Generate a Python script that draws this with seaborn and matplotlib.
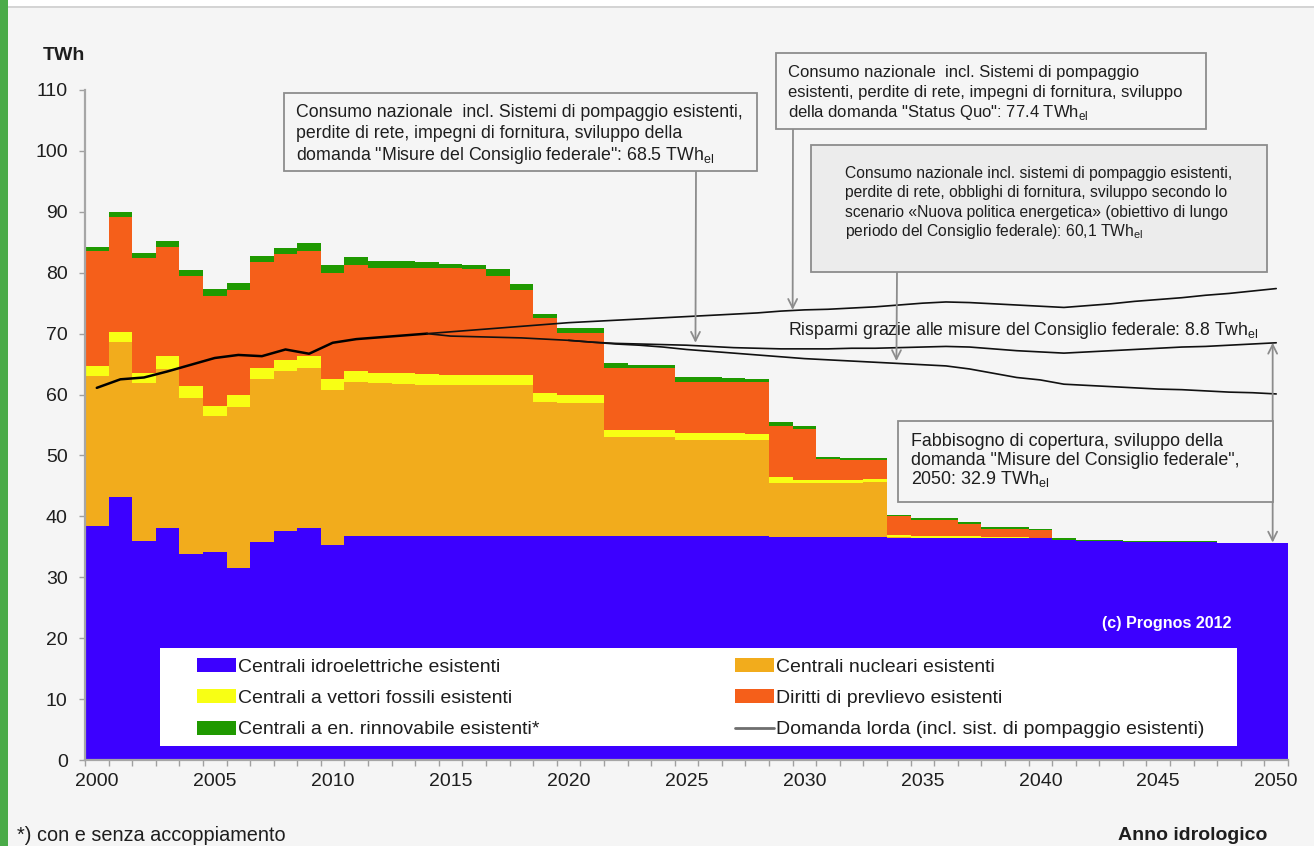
import pandas as pd
import matplotlib
matplotlib.use("Agg")
import matplotlib.pyplot as plt
from matplotlib.patches import Rectangle, Patch
from matplotlib.lines import Line2D
import seaborn as sns

# --- data (TWh) ---
anni = list(range(2000, 2051))
idro = [38.4, 43.1, 36.0, 38.1, 33.9, 34.2, 31.5, 35.8, 37.6, 38.1,
        35.3, 36.8, 36.8, 36.8, 36.8, 36.8, 36.8, 36.8, 36.8, 36.8,
        36.8, 36.8, 36.8, 36.7, 36.7, 36.7, 36.7, 36.7, 36.7, 36.6,
        36.6, 36.6, 36.6, 36.6, 36.4, 36.4, 36.4, 36.4, 36.4, 36.4,
        36.4, 36.1, 36.0, 36.0, 35.8, 35.8, 35.8, 35.8, 35.6, 35.6, 35.6]
nucleari = [24.7, 25.5, 25.9, 26.1, 25.6, 22.2, 26.4, 26.7, 26.2, 26.3,
            25.5, 25.3, 25.1, 25.0, 24.8, 24.7, 24.7, 24.7, 24.7, 22.0,
            21.8, 21.8, 16.3, 16.3, 16.3, 15.9, 15.9, 15.9, 15.8, 8.8,
            8.8, 8.8, 8.8, 9.1, 0.2, 0.1, 0.1, 0.1, 0.1, 0.1,
            0.0, 0.0, 0.0, 0.0, 0.0, 0.0, 0.0, 0.0, 0.0, 0.0, 0.0]
fossili = [1.6, 1.7, 1.6, 2.1, 1.9, 1.7, 2.0, 1.8, 1.9, 1.9,
           1.8, 1.8, 1.7, 1.7, 1.8, 1.7, 1.7, 1.7, 1.7, 1.5,
           1.3, 1.3, 1.1, 1.1, 1.1, 1.1, 1.1, 1.1, 1.1, 1.0,
           0.6, 0.6, 0.6, 0.4, 0.3, 0.3, 0.3, 0.2, 0.1, 0.1,
           0.1, 0.1, 0.0, 0.0, 0.0, 0.0, 0.0, 0.0, 0.0, 0.0, 0.0]
diritti = [18.9, 18.8, 18.9, 17.9, 18.1, 18.1, 17.3, 17.4, 17.3, 17.2,
           17.3, 17.3, 17.2, 17.2, 17.4, 17.5, 17.4, 16.3, 13.9, 12.2,
           10.2, 10.2, 10.2, 10.2, 10.2, 8.4, 8.4, 8.4, 8.5, 8.5,
           8.4, 3.4, 3.2, 3.2, 3.1, 2.6, 2.6, 2.0, 1.4, 1.4,
           1.3, 0.0, 0.0, 0.0, 0.0, 0.0, 0.0, 0.0, 0.0, 0.0, 0.0]
rinnovabili = [0.7, 0.9, 0.9, 1.0, 1.0, 1.2, 1.1, 1.1, 1.1, 1.3,
               1.4, 1.4, 1.2, 1.3, 1.0, 0.8, 0.7, 1.1, 1.1, 0.8,
               0.9, 0.9, 0.8, 0.6, 0.6, 0.7, 0.7, 0.6, 0.5, 0.6,
               0.5, 0.4, 0.4, 0.2, 0.3, 0.3, 0.3, 0.3, 0.3, 0.3,
               0.2, 0.2, 0.2, 0.2, 0.1, 0.1, 0.1, 0.1, 0.0, 0.0, 0.0]

anni_storico = list(range(2000, 2015))
domanda_storico = [61.1, 62.5, 62.8, 63.8, 64.9, 66.0, 66.5, 66.3, 67.4, 66.7,
                   68.5, 69.1, 69.4, 69.7, 70.0]
anni_scenari = list(range(2014, 2051))
domanda_status_quo = [70.0, 70.3, 70.6, 70.9, 71.2, 71.5, 71.8, 72.0, 72.2, 72.4,
                      72.6, 72.8, 73.0, 73.2, 73.4, 73.7, 73.9, 74.0, 74.2, 74.4,
                      74.7, 75.0, 75.2, 75.1, 74.9, 74.7, 74.5, 74.3, 74.6, 74.9,
                      75.3, 75.6, 75.9, 76.3, 76.6, 77.0, 77.4]
domanda_misure = [70.0, 69.6, 69.5, 69.4, 69.3, 69.1, 68.9, 68.6, 68.4, 68.3,
                  68.2, 68.1, 67.9, 67.7, 67.6, 67.5, 67.5, 67.5, 67.6, 67.6,
                  67.7, 67.8, 67.9, 67.8, 67.5, 67.2, 67.0, 66.8, 67.0, 67.2,
                  67.4, 67.6, 67.8, 67.9, 68.1, 68.3, 68.5]
anni_nuova = list(range(2020, 2051))
domanda_nuova = [68.9, 68.6, 68.3, 68.1, 67.8, 67.4, 67.1, 66.8, 66.5, 66.2,
                 65.9, 65.7, 65.5, 65.3, 65.1, 64.9, 64.7, 64.2, 63.5, 62.8,
                 62.4, 61.7, 61.5, 61.3, 61.1, 60.9, 60.8, 60.6, 60.4, 60.3, 60.1]

fonti = ["Centrali idroelettriche esistenti", "Centrali nucleari esistenti",
         "Centrali a vettori fossili esistenti", "Diritti di prevlievo esistenti",
         "Centrali a en. rinnovabile esistenti*"]
colori = ["#3c00ff", "#f2ac1c", "#f8ff14", "#f55f1a", "#1f9900"]

df = pd.DataFrame({"anno": anni, fonti[0]: idro, fonti[1]: nucleari, fonti[2]: fossili,
                   fonti[3]: diritti, fonti[4]: rinnovabili})
df = df.melt(id_vars="anno", var_name="fonte", value_name="TWh")

sns.set_style("white")
plt.rcParams["font.family"] = ["Liberation Sans", "DejaVu Sans"]

W, H = 1314, 846
BG = "#f5f5f5"
GRIGIO = "#8c8c8c"
TESTO = "#1e1e1e"


def fx(px):
    return px / W


def fy(py):
    return 1 - py / H


fig = plt.figure(figsize=(W / 100, H / 100), dpi=100)
fig.patch.set_facecolor(BG)
ax = fig.add_axes([fx(85), fy(760), (1288 - 85) / W, (760 - 90) / H])
ax.set_facecolor(BG)

# stacked columns (seaborn stacks the last hue level at the bottom)
sns.histplot(data=df, x="anno", weights="TWh", hue="fonte", hue_order=fonti[::-1],
             palette=dict(zip(fonti, colori)), multiple="stack", discrete=True,
             element="step", fill=True, alpha=1, linewidth=0, legend=False, ax=ax)

# demand lines
sns.lineplot(x=anni_storico, y=domanda_storico, color="black", lw=1.8, ax=ax)
sns.lineplot(x=anni_scenari, y=domanda_status_quo, color="#111111", lw=1.2, ax=ax)
sns.lineplot(x=anni_scenari, y=domanda_misure, color="#111111", lw=1.2, ax=ax)
sns.lineplot(x=anni_nuova, y=domanda_nuova, color="#111111", lw=1.2, ax=ax)

ax.set_xlim(1999.5, 2050.5)
ax.set_ylim(0, 110)
ax.set_xlabel("")
ax.set_ylabel("")
ax.set_xticks(range(2000, 2051, 5))
ax.set_xticks([a - 0.5 for a in anni] + [2050.5], minor=True)
ax.set_yticks(range(0, 111, 10))
ax.tick_params(axis="x", which="major", length=0, pad=9.5, labelsize=14, labelcolor=TESTO)
ax.tick_params(axis="x", which="minor", bottom=True, length=4, width=1, color="#a0a0a0")
ax.tick_params(axis="y", left=True, length=4, width=1, color="#a0a0a0", pad=8.5,
               labelsize=14, labelcolor=TESTO)
for lato in ["top", "right"]:
    ax.spines[lato].set_visible(False)
for lato in ["left", "bottom"]:
    ax.spines[lato].set_color("#a6a6a6")
    ax.spines[lato].set_linewidth(1.6)

# legend on a white panel
ax.add_patch(Rectangle((fx(160), fy(746)), (1237 - 160) / W, (746 - 648) / H,
                       transform=fig.transFigure, facecolor="white", edgecolor="none",
                       zorder=4, clip_on=False))
maniglie = [Patch(facecolor=c, edgecolor="none") for c in colori]
maniglie.append(Line2D([0], [0], color="#6e6e6e", lw=2))
etichette = fonti + ["Domanda lorda (incl. sist. di pompaggio esistenti)"]
stile_leg = dict(frameon=False, fontsize=14, handlelength=2.0, handleheight=0.72,
                 handletextpad=0.12, labelspacing=0.70, borderpad=0, borderaxespad=0,
                 loc="upper left", bbox_transform=fig.transFigure)
leg1 = ax.legend([maniglie[0], maniglie[2], maniglie[4]],
                 [etichette[0], etichette[2], etichette[4]],
                 bbox_to_anchor=(fx(197), fy(658)), **stile_leg)
for t in leg1.get_texts():
    t.set_color(TESTO)
ax.add_artist(leg1)
leg2 = ax.legend([maniglie[1], maniglie[3], maniglie[5]],
                 [etichette[1], etichette[3], etichette[5]],
                 bbox_to_anchor=(fx(735), fy(658)), **stile_leg)
for t in leg2.get_texts():
    t.set_color(TESTO)

# annotation boxes
def riquadro(x0, y0, x1, y1, colore=BG):
    fig.add_artist(Rectangle((fx(x0), fy(y1)), (x1 - x0) / W, (y1 - y0) / H,
                             transform=fig.transFigure, facecolor=colore,
                             edgecolor=GRIGIO, lw=1.3))


def righe(x, basi, testi, size):
    for b, t in zip(basi, testi):
        fig.text(fx(x), fy(b), t, fontsize=size, color=TESTO, va="baseline", ha="left")


EL = r"$_\mathregular{el}$"
riquadro(284, 93, 757, 171)
righe(296, [117, 138.5, 160],
      ["Consumo nazionale  incl. Sistemi di pompaggio esistenti,",
       "perdite di rete, impegni di fornitura, sviluppo della",
       "domanda \"Misure del Consiglio federale\": 68.5 TWh" + EL], 12.8)

riquadro(776, 53, 1206, 129)
righe(788, [77, 96.5, 116.5],
      ["Consumo nazionale  incl. Sistemi di pompaggio",
       "esistenti, perdite di rete, impegni di fornitura, sviluppo",
       "della domanda \"Status Quo\": 77.4 TWh" + EL], 12)

riquadro(811, 145, 1267, 272, colore="#ececec")
righe(845, [178, 196.5, 217, 236],
      ["Consumo nazionale incl. sistemi di pompaggio esistenti,",
       "perdite di rete, obblighi di fornitura, sviluppo secondo lo",
       "scenario «Nuova politica energetica» (obiettivo di lungo",
       "periodo del Consiglio federale): 60,1 TWh" + EL], 11.25)

riquadro(898, 421, 1273, 502)
righe(911, [446, 464.5, 484],
      ["Fabbisogno di copertura, sviluppo della",
       "domanda \"Misure del Consiglio federale\",",
       "2050: 32.9 TWh" + EL], 12.9)

righe(788, [335], ["Risparmi grazie alle misure del Consiglio federale: 8.8 Twh" + EL], 12.7)

# arrows from the boxes to the curves
freccia = dict(arrowstyle="->", color=GRIGIO, lw=1.3, mutation_scale=16, shrinkA=0, shrinkB=0)
ax.annotate("", xy=(2025.38, 68.5), xytext=(fx(696), fy(171)),
            textcoords="figure fraction", arrowprops=freccia, annotation_clip=False)
ax.annotate("", xy=(2029.5, 73.9), xytext=(fx(793), fy(129)),
            textcoords="figure fraction", arrowprops=freccia, annotation_clip=False)
ax.annotate("", xy=(2033.9, 65.5), xytext=(fx(897), fy(272)),
            textcoords="figure fraction", arrowprops=freccia, annotation_clip=False)
ax.annotate("", xy=(2049.85, 35.7), xytext=(2049.85, 68.5),
            arrowprops=dict(freccia, arrowstyle="<->"), annotation_clip=False)

# other texts
fig.text(fx(1232), fy(628), "(c) Prognos 2012", color="white", fontsize=11.6,
         fontweight="bold", ha="right", va="baseline")
fig.text(fx(64), fy(55), "TWh", fontsize=14, fontweight="bold", color=TESTO,
         ha="center", va="center")
fig.text(fx(17), fy(835), "*) con e senza accoppiamento", fontsize=14.3, color=TESTO,
         ha="left", va="center")
fig.text(fx(1267), fy(835), "Anno idrologico", fontsize=14, fontweight="bold",
         color=TESTO, ha="right", va="center")

# page frame: green strip on the left, white band on top
fig.add_artist(Rectangle((0, 0), fx(8), 1, transform=fig.transFigure,
                         facecolor="#4aab48", edgecolor="none"))
fig.add_artist(Rectangle((fx(8), fy(6)), 1, 6 / H, transform=fig.transFigure,
                         facecolor="white", edgecolor="none"))
fig.add_artist(Rectangle((fx(8), fy(8)), 1, 2 / H, transform=fig.transFigure,
                         facecolor="#d4d4d4", edgecolor="none"))

fig.savefig("out.png", dpi=100, facecolor=fig.get_facecolor())
